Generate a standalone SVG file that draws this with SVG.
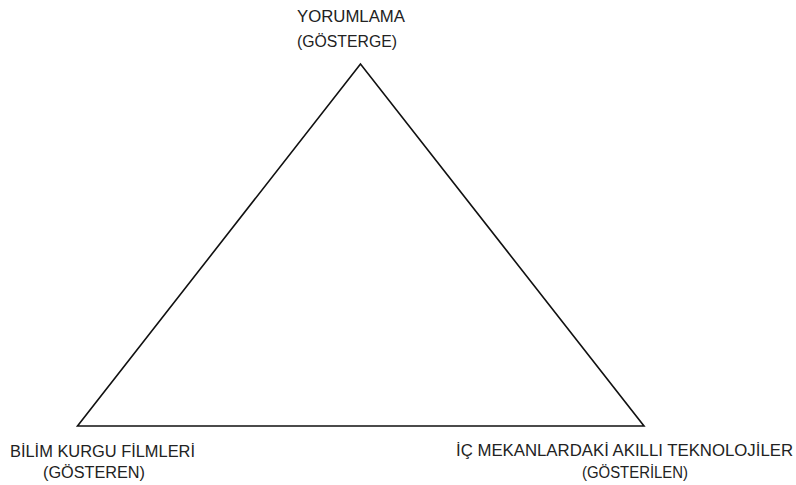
<svg xmlns="http://www.w3.org/2000/svg" width="796" height="485" viewBox="0 0 796 485">
<style>
text{font-family:"Liberation Sans",Arial,sans-serif;font-size:16px;fill:#222;}
.edge{stroke:#111;stroke-width:1.6;fill:none;stroke-linejoin:miter;}
</style>
<rect width="796" height="485" fill="#fff"/>
<g id="connectors">
<path class="edge" d="M360.5,64 L77.5,426 L644,426 Z"/>
</g>
<g id="node-top">
<text x="297" y="22" textLength="108" lengthAdjust="spacingAndGlyphs">YORUMLAMA</text>
<text x="297" y="47" textLength="100" lengthAdjust="spacingAndGlyphs">(GÖSTERGE)</text>
</g>
<g id="node-left">
<text x="10" y="457" textLength="185" lengthAdjust="spacingAndGlyphs">BİLİM KURGU FİLMLERİ</text>
<text x="43" y="478" textLength="102" lengthAdjust="spacingAndGlyphs">(GÖSTEREN)</text>
</g>
<g id="node-right">
<text x="456" y="456" textLength="337" lengthAdjust="spacingAndGlyphs">İÇ MEKANLARDAKİ AKILLI TEKNOLOJİLER</text>
<text x="582" y="478" textLength="106" lengthAdjust="spacingAndGlyphs">(GÖSTERİLEN)</text>
</g>
</svg>
